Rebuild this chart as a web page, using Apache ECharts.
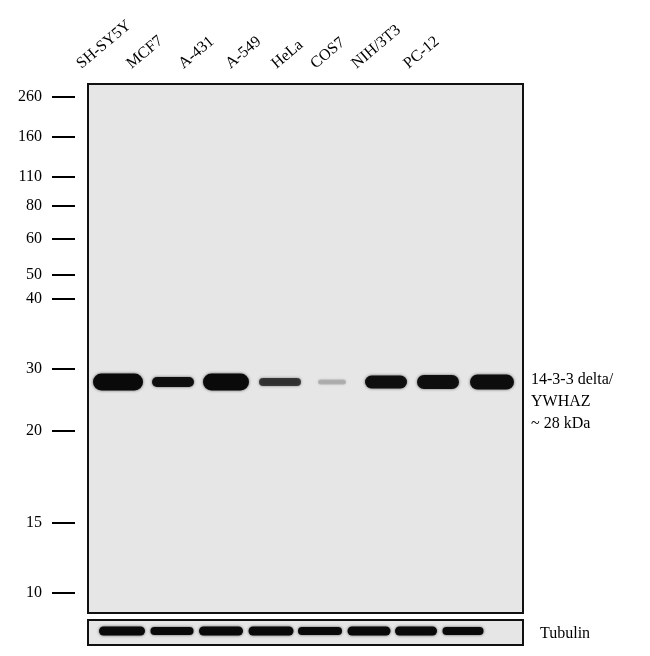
<!DOCTYPE html>
<html>
<head>
<meta charset="utf-8">
<script src="https://cdn.jsdelivr.net/npm/echarts@6/dist/echarts.min.js"></script>
<style>html,body{margin:0;background:#fff}#c{width:650px;height:656px}</style>
</head>
<body>
<div id="c"></div>
<script>
// 泳道名称与位置（相对于主图左上角的像素单位）
var lanes = ['SH-SY5Y', 'MCF7', 'A-431', 'A-549', 'HeLa', 'COS7', 'NIH/3T3', 'PC-12'];
var laneLabelX = [-4, 46, 98, 145, 191, 230, 271, 323];
// 目的条带 14-3-3 delta
var bandX = [30, 85, 138, 192, 244, 298, 350, 404];
var bandW = [50, 42, 46, 42, 28, 42, 42, 44];
var bandH = [17, 10, 17, 8, 5, 13, 14, 15];
var bandAlpha = [1, 0.95, 1, 0.7, 0.18, 0.95, 0.95, 0.97];
var bandY = 298;
// Tubulin 条带
var tubX = [34, 84, 133, 183, 232, 281, 328, 375];
var tubW = [46, 43, 44, 45, 44, 43, 42, 41];
var tubH = [9, 8, 9, 9, 8, 9, 9, 8];
var tubY = 547;
// 分子量标记
var markers = ['260', '160', '110', '80', '60', '50', '40', '30', '20', '15', '10'];
var markerY = [13, 53, 93, 122, 155, 191, 215, 285, 347, 439, 509];

var font = '16px "Liberation Serif"';

(function() {
    var myechart = echarts.init(document.getElementById('c'));
    var option = {
        animation: false,
        backgroundColor: '#fff',
        grid: { left: 88, top: 84, width: 435, height: 561 },
        xAxis: { type: 'value', min: 0, max: 435, show: false },
        yAxis: { type: 'value', min: 0, max: 561, inverse: true, show: false },
        series: [
            // 面板
            {
                type: 'custom', clip: false, z: 1,
                data: [[0, 0, 435, 529], [0, 536, 435, 25]],
                renderItem: function(params, api) {
                    var p = api.coord([api.value(0), api.value(1)]);
                    var q = api.coord([api.value(0) + api.value(2), api.value(1) + api.value(3)]);
                    return { type: 'rect', shape: { x: p[0], y: p[1], width: q[0] - p[0], height: q[1] - p[1] },
                        style: { fill: '#e6e6e6', stroke: '#111', lineWidth: 2 } };
                }
            },
            // 条带
            {
                type: 'custom', clip: false, z: 2,
                data: bandX.map(function(x, i) { return [x, bandY, bandW[i], bandH[i], bandAlpha[i]]; })
                    .concat(tubX.map(function(x, i) { return [x, tubY, tubW[i], tubH[i], 1]; })),
                renderItem: function(params, api) {
                    var c = api.coord([api.value(0), api.value(1)]);
                    var w = api.value(2), h = api.value(3);
                    return { type: 'rect', shape: { x: c[0] - w / 2, y: c[1] - h / 2, width: w, height: h, r: h / 2 },
                        style: { fill: '#0a0a0a', opacity: api.value(4), shadowBlur: 3, shadowColor: 'rgba(0,0,0,0.6)' } };
                }
            },
            // 分子量标记
            {
                type: 'custom', clip: false, z: 3,
                data: markerY.map(function(y, i) { return [y, markers[i]]; }),
                renderItem: function(params, api) {
                    var c = api.coord([0, api.value(0)]);
                    return { type: 'group', children: [
                        { type: 'rect', shape: { x: c[0] - 36, y: c[1] - 1, width: 23, height: 2 }, style: { fill: '#000' } },
                        { type: 'text', x: c[0] - 46, y: c[1], style: { text: markers[params.dataIndex], font: font, fill: '#000', align: 'right', verticalAlign: 'middle' } }
                    ] };
                }
            },
            // 泳道名称
            {
                type: 'custom', clip: false, z: 3,
                data: laneLabelX.map(function(x, i) { return [x, -12]; }),
                renderItem: function(params, api) {
                    var c = api.coord([api.value(0), api.value(1)]);
                    return { type: 'text', x: c[0], y: c[1], rotation: 40 * Math.PI / 180,
                        style: { text: lanes[params.dataIndex], font: font, fill: '#000', align: 'left', verticalAlign: 'bottom' } };
                }
            }
        ],
        graphic: [
            { type: 'text', left: 531, top: 369, style: { text: '14-3-3 delta/\nYWHAZ\n~ 28 kDa', font: font, lineHeight: 22, fill: '#000' } },
            { type: 'text', left: 540, top: 626, style: { text: 'Tubulin', font: font, fill: '#000' } }
        ]
    };
    myechart.setOption(option);
})();
</script>
</body>
</html>
